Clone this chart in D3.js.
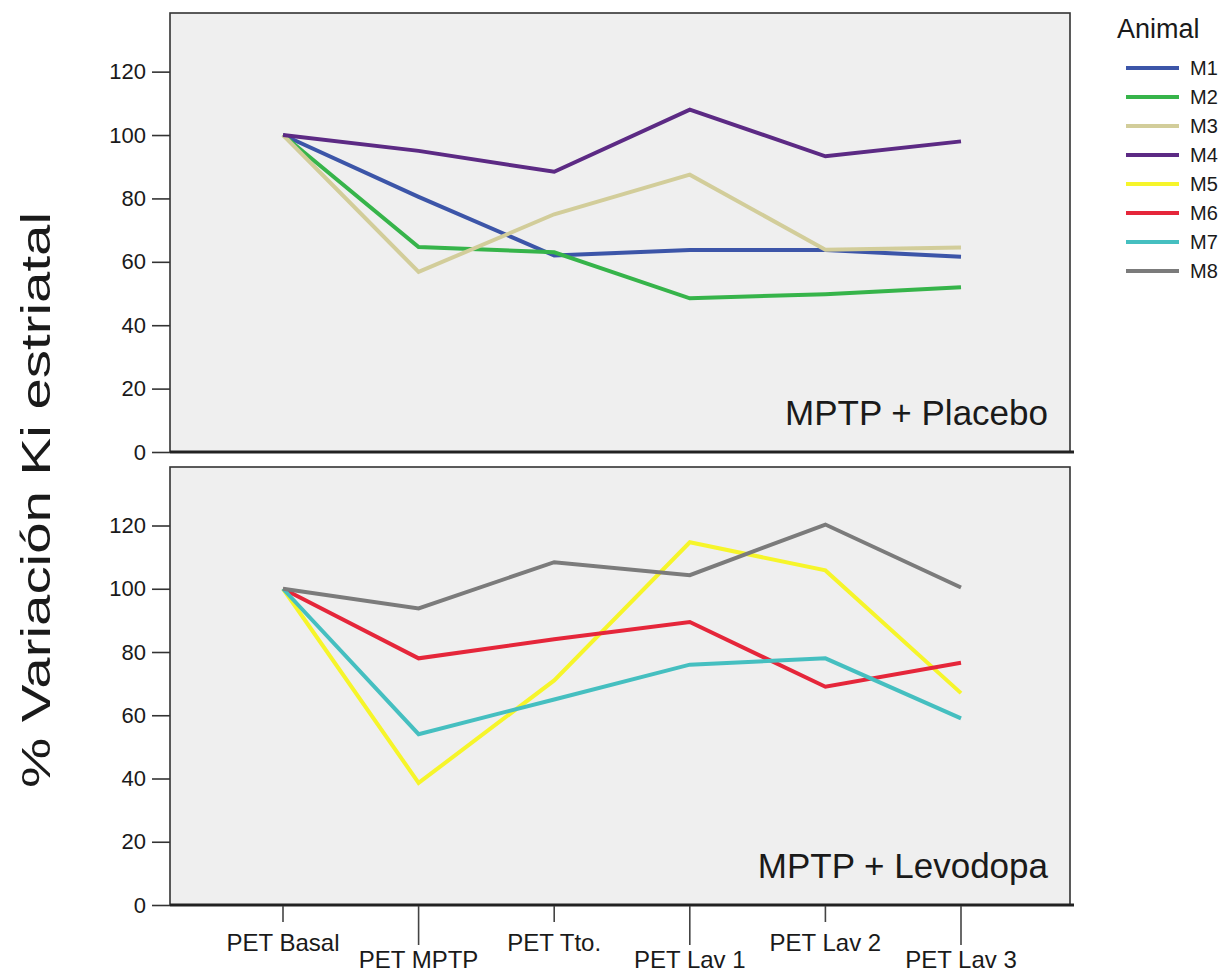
<!DOCTYPE html>
<html>
<head>
<meta charset="utf-8">
<script src="https://cdnjs.cloudflare.com/ajax/libs/d3/7.8.5/d3.min.js"></script>
<style>
  body { margin:0; background:#fff; }
  svg text { font-family: "Liberation Sans", Arial, sans-serif; fill:#1a1a1a; }
</style>
</head>
<body>
<svg id="chart" width="1232" height="974"></svg>
<script>
(function(window, document, undefined){

// ***************   DATA   ***************//
var sessions = ["PET Basal", "PET MPTP", "PET Tto.", "PET Lav 1", "PET Lav 2", "PET Lav 3"];
var animals = ["M1", "M2", "M3", "M4", "M5", "M6", "M7", "M8"];
var animalColors = ["#3c55a8", "#36b44a", "#d2cd9a", "#5c2a84", "#f6f52a", "#e5263a", "#45bfc0", "#7b7b7b"];
var yTicks = [0, 20, 40, 60, 80, 100, 120];

// placebo group
var m1 = [100, 80.5, 62, 63.7, 63.7, 61.6];
var m2 = [100, 64.7, 63, 48.5, 49.8, 52];
var m3 = [100, 56.8, 75, 87.5, 63.8, 64.5];
var m4 = [100, 95, 88.4, 108, 93.3, 98];
// levodopa group
var m5 = [100, 38.6, 71, 114.7, 105.8, 67];
var m6 = [100, 78, 84, 89.5, 69, 76.6];
var m7 = [100, 54, 65, 76, 78, 59];
var m8 = [100, 93.8, 108.4, 104.3, 120.3, 100.4];

var panels = [
  {label: "MPTP + Placebo", top: 13, bottom: 452, series: [["M1", m1], ["M2", m2], ["M3", m3], ["M4", m4]]},
  {label: "MPTP + Levodopa", top: 467, bottom: 905, series: [["M5", m5], ["M6", m6], ["M7", m7], ["M8", m8]]}
];

var svg = d3.select("#chart");
var left = 170, right = 1070;

var color = d3.scaleOrdinal().domain(animals).range(animalColors);
var x = d3.scalePoint().domain(sessions).range([283, 961]);

panels.forEach(function(p, pi){
  var y = d3.scaleLinear().domain([0, 138.5]).range([p.bottom, p.top]);
  var g = svg.append("g");

  // panel background + frame
  g.append("rect")
    .attr("x", left).attr("y", p.top)
    .attr("width", right - left).attr("height", p.bottom - p.top)
    .attr("fill", "#efefef")
    .attr("stroke", "#333").attr("stroke-width", 1.6);

  // y axis (frame already draws the domain)
  var yAxis = d3.axisLeft(y).tickValues(yTicks).tickSizeInner(18).tickSizeOuter(0).tickPadding(6);
  var ya = g.append("g").attr("transform", "translate(" + left + ",0)").call(yAxis);
  ya.select(".domain").remove();
  ya.selectAll(".tick line").attr("stroke", "#333").attr("stroke-width", 1.6);
  ya.selectAll(".tick text")
    .style("font-size", "22px")
    .style("font-family", "Liberation Sans, Arial, sans-serif")
    .attr("fill", "#1a1a1a");

  // data lines
  var line = d3.line()
    .x(function(d, i){ return x(sessions[i]); })
    .y(function(d){ return y(d); });

  g.selectAll("path.series")
    .data(p.series)
    .enter().append("path")
    .attr("class", "series")
    .attr("d", function(d){ return line(d[1]); })
    .attr("fill", "none")
    .attr("stroke", function(d){ return color(d[0]); })
    .attr("stroke-width", 4)
    .attr("stroke-linejoin", "miter");

  // thick baseline
  g.append("line")
    .attr("x1", left).attr("x2", right + 4)
    .attr("y1", p.bottom).attr("y2", p.bottom)
    .attr("stroke", "#222").attr("stroke-width", 3);

  // group label
  g.append("text")
    .attr("x", 1048).attr("y", p.bottom - 27)
    .attr("text-anchor", "end")
    .style("font-size", "35px")
    .text(p.label);
});

// ***************   X AXIS (bottom only, staggered)   ***************//
var xa = svg.append("g");
var axisY = 905;
sessions.forEach(function(s, i){
  var low = i % 2 == 1;
  xa.append("line")
    .attr("x1", x(s)).attr("x2", x(s))
    .attr("y1", axisY + 1).attr("y2", low ? 945 : 922)
    .attr("stroke", "#444").attr("stroke-width", 1.6);
  xa.append("text")
    .attr("x", x(s)).attr("y", low ? 968 : 951)
    .attr("text-anchor", "middle")
    .style("font-size", "24px")
    .text(s);
});

// y title - stretched along its length like the original
svg.append("text")
  .attr("transform", "translate(50,500) rotate(-90)")
  .attr("x", -288)
  .attr("textLength", 576)
  .attr("lengthAdjust", "spacingAndGlyphs")
  .style("font-size", "41px")
  .text("% Variación Ki estriatal");

// ***************   LEGEND   ***************//
var legend = svg.append("g");
legend.append("text")
  .attr("x", 1117).attr("y", 38)
  .style("font-size", "27px")
  .text("Animal");

var item = legend.selectAll("g.item")
  .data(animals)
  .enter().append("g")
  .attr("class", "item")
  .attr("transform", function(d, i){ return "translate(0," + (68 + i * 29) + ")"; });

item.append("line")
  .attr("x1", 1126).attr("x2", 1179)
  .attr("stroke", function(d){ return color(d); })
  .attr("stroke-width", 4);

item.append("text")
  .attr("x", 1190).attr("y", 7)
  .style("font-size", "20px")
  .text(function(d){ return d; });

})(this, document);
</script>
</body>
</html>
